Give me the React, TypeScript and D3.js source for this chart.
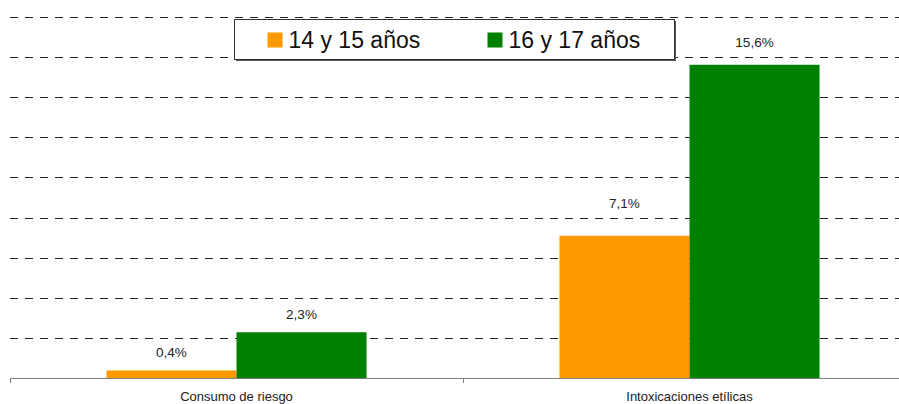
import { useEffect, useRef } from "react";
import * as d3 from "d3";

const categories = ["Consumo de riesgo", "Intoxicaciones etílicas"];
const seriesNames = ["14 y 15 años", "16 y 17 años"];
const values1415 = [0.4, 7.1];
const values1617 = [2.3, 15.6];
const gridTicks = [2, 4, 6, 8, 10, 12, 14, 16, 18];
const colors = ["#FF9900", "#008000"];

const FONT = "Arial, 'Liberation Sans', sans-serif";

export default function App() {
  const svgRef = useRef<SVGSVGElement | null>(null);

  useEffect(() => {
    const width = 899;
    const height = 404;
    const svg = d3.select(svgRef.current).attr("width", width).attr("height", height);
    svg.selectAll("*").remove();

    const series = [values1415, values1617];
    const rows = categories.map((c, i) => ({
      cat: c,
      vals: series.map((s, j) => ({ key: seriesNames[j], value: s[i], color: colors[j], ci: i, si: j })),
    }));

    const x0 = d3.scaleBand().domain(categories).range([10, 916]).paddingInner(0).paddingOuter(0);
    const x1 = d3.scaleBand().domain(seriesNames).range([0, x0.bandwidth()]).paddingInner(0).paddingOuter(0.742);
    const y = d3.scaleLinear().domain([0, 18]).range([378.5, 16.5]);

    // label gap above bar (Excel nudged these by hand)
    const labelGap = (ci: number, si: number) => (ci === 1 && si === 0 ? 28 : ci === 1 ? 18 : 13);

    // dashed gridlines
    svg.append("g")
      .selectAll("line")
      .data(gridTicks)
      .join("line")
      .attr("x1", 10)
      .attr("x2", width)
      .attr("y1", d => Math.round(y(d)) + 0.5)
      .attr("y2", d => Math.round(y(d)) + 0.5)
      .attr("stroke", "#222")
      .attr("stroke-width", 1)
      .attr("stroke-dasharray", "8 7");

    // bars
    const groups = svg.append("g")
      .selectAll("g")
      .data(rows)
      .join("g")
      .attr("transform", d => `translate(${x0(d.cat)},0)`);

    groups.selectAll("rect")
      .data(d => d.vals)
      .join("rect")
      .attr("x", d => x1(d.key)!)
      .attr("width", x1.bandwidth())
      .attr("y", d => y(d.value))
      .attr("height", d => y(0) - y(d.value))
      .attr("fill", d => d.color);

    groups.selectAll("text")
      .data(d => d.vals)
      .join("text")
      .attr("x", d => x1(d.key)! + x1.bandwidth() / 2)
      .attr("y", d => y(d.value) - labelGap(d.ci, d.si))
      .attr("text-anchor", "middle")
      .attr("font-family", FONT)
      .attr("font-size", 13.5)
      .attr("fill", "#222")
      .text(d => d.value.toFixed(1).replace(".", ",") + "%");

    // x axis
    const axis = svg.append("g");
    axis.append("line")
      .attr("x1", 10)
      .attr("x2", width)
      .attr("y1", 378.5)
      .attr("y2", 378.5)
      .attr("stroke", "#808080");
    const tickXs = [...categories.map(c => x0(c)!), x0.range()[1]];
    axis.selectAll("line.tick")
      .data(tickXs)
      .join("line")
      .attr("class", "tick")
      .attr("x1", d => Math.round(d) + 0.5)
      .attr("x2", d => Math.round(d) + 0.5)
      .attr("y1", 378)
      .attr("y2", 383)
      .attr("stroke", "#808080");
    axis.selectAll("text")
      .data(categories)
      .join("text")
      .attr("x", d => x0(d)! + x0.bandwidth() / 2)
      .attr("y", 401)
      .attr("text-anchor", "middle")
      .attr("font-family", FONT)
      .attr("font-size", 13)
      .attr("fill", "#222")
      .text(d => d);

    // legend
    const legend = svg.append("g").attr("transform", "translate(234.5,19.5)");
    legend.append("rect")
      .attr("x", 1.5)
      .attr("y", 1.5)
      .attr("width", 440)
      .attr("height", 40)
      .attr("fill", "#555");
    legend.append("rect")
      .attr("width", 440)
      .attr("height", 40)
      .attr("fill", "#fff")
      .attr("stroke", "#333");
    const items = legend.selectAll("g")
      .data(seriesNames)
      .join("g")
      .attr("transform", (_, i) => `translate(${33 + i * 220},0)`);
    items.append("rect")
      .attr("x", 0)
      .attr("y", 13)
      .attr("width", 15)
      .attr("height", 15)
      .attr("fill", (_, i) => colors[i]);
    items.append("text")
      .attr("x", 21)
      .attr("y", 28.5)
      .attr("font-family", FONT)
      .attr("font-size", 23)
      .attr("fill", "#111")
      .text(d => d);
  }, []);

  return (
    <svg
      ref={svgRef}
      style={{ position: "absolute", left: 0, top: 0, display: "block", background: "#fff" }}
    />
  );
}
